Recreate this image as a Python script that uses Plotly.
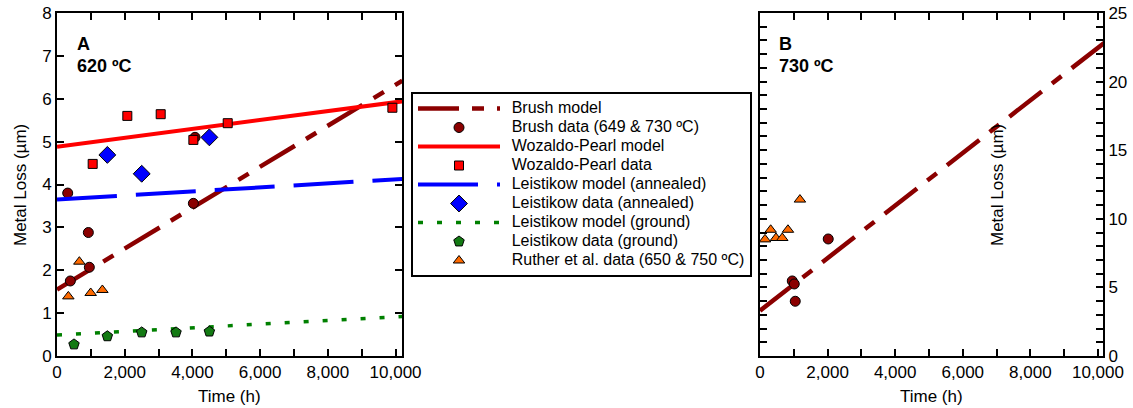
import plotly.graph_objects as go

# ---------------- data ----------------
# Panel A (620 ºC)
model_t = [0, 10200]
brush_model_A = [1.55, 6.42]
wp_model_A = [4.88, 5.94]
leis_ann_model_A = [3.65, 4.13]
leis_gr_model_A = [0.49, 0.92]

brush_t_A = [316, 394, 926, 955, 4028, 4077]
brush_y_A = [3.80, 1.75, 2.88, 2.07, 3.56, 5.10]

wp_t_A = [1054, 2077, 3063, 4028, 5042, 9906]
wp_y_A = [4.48, 5.60, 5.64, 5.04, 5.43, 5.79]

leis_ann_t_A = [1487, 2502, 4500]
leis_ann_y_A = [4.69, 4.25, 5.10]

leis_gr_t_A = [502, 1487, 2502, 3515, 4500]
leis_gr_y_A = [0.27, 0.46, 0.55, 0.55, 0.57]

ruther_t_A = [335, 660, 995, 1340]
ruther_y_A = [1.39, 2.20, 1.47, 1.54]

# Panel B (730 ºC)
brush_model_B = [3.30, 22.85]
brush_t_B = [955, 1014, 1043, 2019]
brush_y_B = [5.47, 5.25, 3.99, 8.53]
ruther_t_B = [148, 316, 473, 659, 827, 1182]
ruther_y_B = [8.5, 9.2, 8.6, 8.6, 9.2, 11.4]

x_tickvals = [0, 2000, 4000, 6000, 8000, 10000]
x_ticktext = ["0", "2,000", "4,000", "6,000", "8,000", "10,000"]

legend_names = [
    "Brush model",
    "Brush data (649 & 730 ºC)",
    "Wozaldo-Pearl model",
    "Wozaldo-Pearl data",
    "Leistikow model (annealed)",
    "Leistikow data (annealed)",
    "Leistikow model (ground)",
    "Leistikow data (ground)",
    "Ruther et al. data (650 & 750 ºC)",
]

# ---------------- styles ----------------
FONT = "Liberation Sans, Arial, Helvetica, sans-serif"
DARKRED = "#8B0000"
RED = "#FF0000"
BLUE = "#0000FF"
GREEN = "#008000"
GREEN_M = "#137A13"
ORANGE = "#FF6A00"
BRUSH_DASH = "41px,13px,12px,13px"

W, H = 1133, 408
ML, MR, MT, MB = 0, 0, 13, 52
PH = H - MT - MB


def px_x(px):
    return px / W


def px_y(py):
    return (H - MB - py) / PH


def lname(s):
    return '\u00a0\u00a0<span style="font-size:16px">' + s + "</span>"


fig = go.Figure()
mk_line = dict(color="black", width=1)

# Panel A traces
fig.add_trace(go.Scatter(x=model_t, y=brush_model_A, mode="lines", name=lname(legend_names[0]),
                         line=dict(color=DARKRED, width=4.5, dash=BRUSH_DASH), xaxis="x", yaxis="y"))
fig.add_trace(go.Scatter(x=brush_t_A, y=brush_y_A, mode="markers", name=lname(legend_names[1]),
                         marker=dict(symbol="circle", size=10, color=DARKRED, line=mk_line), xaxis="x", yaxis="y"))
fig.add_trace(go.Scatter(x=model_t, y=wp_model_A, mode="lines", name=lname(legend_names[2]),
                         line=dict(color=RED, width=4), xaxis="x", yaxis="y"))
fig.add_trace(go.Scatter(x=wp_t_A, y=wp_y_A, mode="markers", name=lname(legend_names[3]),
                         marker=dict(symbol="square", size=9, color=RED, line=mk_line), xaxis="x", yaxis="y"))
fig.add_trace(go.Scatter(x=model_t, y=leis_ann_model_A, mode="lines", name=lname(legend_names[4]),
                         line=dict(color=BLUE, width=4, dash="60px,19px"), xaxis="x", yaxis="y"))
fig.add_trace(go.Scatter(x=leis_ann_t_A, y=leis_ann_y_A, mode="markers", name=lname(legend_names[5]),
                         marker=dict(symbol="diamond", size=13, color=BLUE, line=mk_line), xaxis="x", yaxis="y"))
fig.add_trace(go.Scatter(x=model_t, y=leis_gr_model_A, mode="lines", name=lname(legend_names[6]),
                         line=dict(color=GREEN, width=3.5, dash="5px,14px"), xaxis="x", yaxis="y"))
fig.add_trace(go.Scatter(x=leis_gr_t_A, y=leis_gr_y_A, mode="markers", name=lname(legend_names[7]),
                         marker=dict(symbol="pentagon", size=11, color=GREEN_M, line=mk_line), xaxis="x", yaxis="y"))
fig.add_trace(go.Scatter(x=ruther_t_A, y=ruther_y_A, mode="markers", name=lname(legend_names[8]),
                         marker=dict(symbol="triangle-up", size=10, color=ORANGE, line=mk_line), xaxis="x", yaxis="y"))

# Panel B traces
fig.add_trace(go.Scatter(x=model_t, y=brush_model_B, mode="lines", showlegend=False,
                         line=dict(color=DARKRED, width=4.5, dash=BRUSH_DASH), xaxis="x2", yaxis="y2"))
fig.add_trace(go.Scatter(x=ruther_t_B, y=ruther_y_B, mode="markers", showlegend=False,
                         marker=dict(symbol="triangle-up", size=10, color=ORANGE, line=mk_line), xaxis="x2", yaxis="y2"))
fig.add_trace(go.Scatter(x=brush_t_B, y=brush_y_B, mode="markers", showlegend=False,
                         marker=dict(symbol="circle", size=10, color=DARKRED, line=mk_line), xaxis="x2", yaxis="y2"))

axis_common = dict(showgrid=False, zeroline=False, showline=True, linecolor="black", linewidth=2,
                   mirror="allticks", ticks="inside", ticklen=7, tickwidth=1.5, tickcolor="black",
                   automargin=False,
                   tickfont=dict(family=FONT, size=17, color="black"))
minor_x = dict(dtick=1000, tick0=0, ticks="inside", ticklen=7, tickwidth=1.5, tickcolor="black")

xA = dict(axis_common, domain=[px_x(57), px_x(402)], range=[0, 10190], anchor="y",
          tickvals=x_tickvals, ticktext=x_ticktext, minor=minor_x)
yA = dict(axis_common, domain=[0, 1], range=[0, 8], anchor="x", dtick=1, tick0=0)
xB = dict(axis_common, domain=[px_x(760), px_x(1103)], range=[0, 10150], anchor="y2",
          tickvals=x_tickvals, ticktext=x_ticktext, minor=minor_x)
yB = dict(axis_common, domain=[0, 1], range=[0, 25], anchor="x2", side="right", dtick=5, tick0=0,
          minor=dict(dtick=1, tick0=0, ticks="inside", ticklen=7, tickwidth=1.5, tickcolor="black"))

ann_font = dict(family=FONT, size=17, color="black")
bold_font = dict(family=FONT, size=18, color="black")
annotations = [
    dict(text="<b>A</b>", x=px_x(75), y=px_y(44), xref="paper", yref="paper", xanchor="left", yanchor="middle",
         showarrow=False, font=bold_font),
    dict(text="<b>620 ºC</b>", x=px_x(75), y=px_y(66), xref="paper", yref="paper", xanchor="left", yanchor="middle",
         showarrow=False, font=bold_font),
    dict(text="<b>B</b>", x=px_x(777), y=px_y(44), xref="paper", yref="paper", xanchor="left", yanchor="middle",
         showarrow=False, font=bold_font),
    dict(text="<b>730 ºC</b>", x=px_x(777), y=px_y(66), xref="paper", yref="paper", xanchor="left", yanchor="middle",
         showarrow=False, font=bold_font),
    dict(text="Metal Loss (µm)", x=px_x(20), y=px_y(185), xref="paper", yref="paper", textangle=-90,
         xanchor="center", yanchor="middle", showarrow=False, font=ann_font),
    dict(text="Metal Loss (µm)", x=px_x(997), y=px_y(185), xref="paper", yref="paper", textangle=-90,
         xanchor="center", yanchor="middle", showarrow=False, font=ann_font),
    dict(text="Time (h)", x=px_x(229.5), y=px_y(396), xref="paper", yref="paper",
         xanchor="center", yanchor="middle", showarrow=False, font=ann_font),
    dict(text="Time (h)", x=px_x(931.5), y=px_y(396), xref="paper", yref="paper",
         xanchor="center", yanchor="middle", showarrow=False, font=ann_font),
]

fig.update_layout(
    width=W, height=H,
    margin=dict(l=ML, r=MR, t=MT, b=MB, pad=0, autoexpand=False),
    paper_bgcolor="white", plot_bgcolor="white",
    xaxis=xA, yaxis=yA, xaxis2=xB, yaxis2=yB,
    annotations=annotations,
    showlegend=True,
    legend=dict(x=px_x(411), y=px_y(92), xref="paper", yref="paper", xanchor="left", yanchor="top",
                bgcolor="white", bordercolor="black", borderwidth=2,
                font=dict(family=FONT, size=12, color="black"), itemwidth=82, tracegroupgap=0),
    font=dict(family=FONT, color="black"),
)

fig.write_html(
    "out.html",
    config={"displayModeBar": False},
    post_script="document.body.style.margin='0';document.body.style.padding='0';"
                "document.body.style.overflow='hidden';",
)
